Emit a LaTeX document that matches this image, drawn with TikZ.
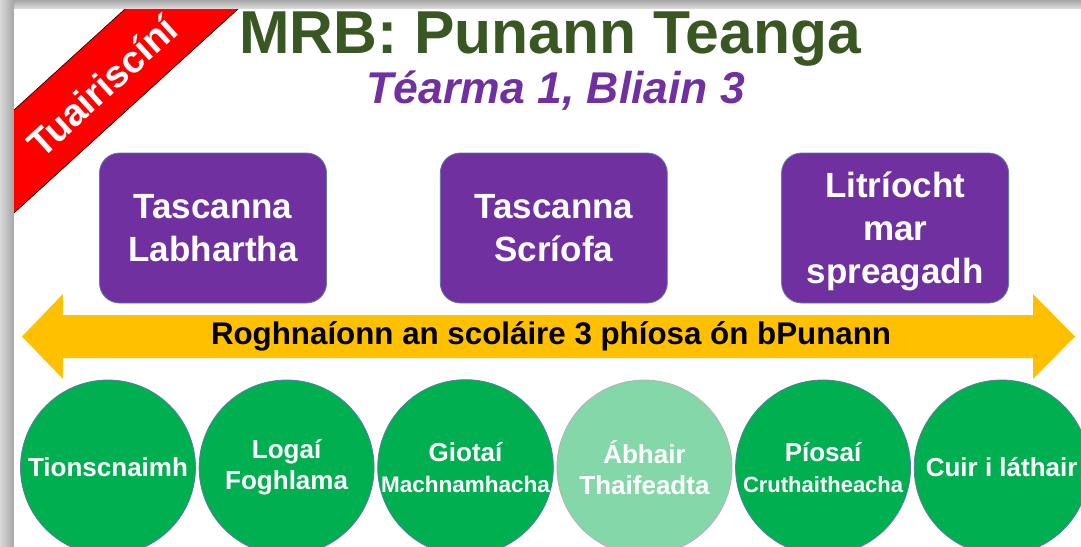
\documentclass[tikz,border=0pt]{standalone}
\usepackage{fontspec}
\setmainfont{Liberation Sans}
\usetikzlibrary{positioning}

\definecolor{glasdorcha}{HTML}{385723}
\definecolor{corcra}{HTML}{7030A0}
\definecolor{buí}{HTML}{FFC000}
\definecolor{glas}{HTML}{00B050}
\definecolor{glasbog}{HTML}{84D7A9}
\definecolor{imeall}{HTML}{5B7BA8}

\begin{document}
\begin{tikzpicture}[
        x=1pt, y=-1pt,
        tasc/.style={draw=imeall, line width=0.8pt, fill=corcra, rounded corners=20pt, align=center,
            minimum width=227pt, minimum height=150pt, text=white,
            font=\bfseries\fontsize{35}{43}\selectfont},
        ciorcal/.style={circle, draw=imeall, line width=0.8pt, fill=glas, align=center, inner sep=0pt,
            minimum size=175pt, text=white, font=\bfseries\fontsize{26}{31}\selectfont}
    ]
        \useasboundingbox (0,0) rectangle (1081,546);
        % cúlra agus scáth
        \fill[gray!55] (0,0) rectangle (1081,546);
        \shade[top color=gray!70, bottom color=gray!25] (0,0) rectangle (1081,9);
        \shade[left color=gray!30, right color=gray!70] (0,0) rectangle (14,546);
        \fill[white] (14,9) rectangle (1081,546);

        % ribín
        \fill[red] (14,110) -- (125,9) -- (238,9) -- (14,213) -- cycle;
        \draw[black, line width=0.6pt] (14,110) -- (125,9) (238,9) -- (14,213);
        \node[rotate=42.3, text=white, font=\bfseries\fontsize{38}{38}\selectfont] (ribin) at (102,86) {Tuairiscíní};

        % teideal
        \node[text=glasdorcha, font=\bfseries\fontsize{60.6}{61}\selectfont] (teideal) at (550,39) {MRB: Punann Teanga};
        \node[text=corcra, font=\bfseries\itshape\fontsize{44.5}{45}\selectfont] (fotheideal) at (556,91) {Téarma 1, Bliain 3};

        % tascanna
        \node[tasc] (t1) at (213,228) {Tascanna\\Labhartha};
        \node[tasc, right=113pt of t1] (t2) {Tascanna\\Scríofa};
        \node[tasc, right=113.5pt of t2, text depth=0pt] (t3) {Litríocht\\mar\\spreagadh};

        % saighead
        \fill[buí] (22,336.5) -- (63,294) -- (63,315) -- (1033,315) -- (1033,294) -- (1075,336.5)
            -- (1033,379) -- (1033,358) -- (63,358) -- (63,379) -- cycle;
        \node[font=\bfseries\fontsize{31.3}{32}\selectfont] (rogha) at (551,336.5) {Roghnaíonn an scoláire 3 phíosa ón bPunann};

        % píosaí
        \node[ciorcal] (c1) at (108,467.5) {Tionscnaimh};
        \node[ciorcal, right=2.8pt of c1] (c2) {Logaí\\Foghlama};
        \node[ciorcal, right=2.8pt of c2] (c3) {Giotaí\\{\fontsize{22.5}{27}\selectfont Machnamhacha}};
        \node[ciorcal, fill=glasbog, draw=gray!60, right=2.8pt of c3] (c4) {Ábhair\\Thaifeadta};
        \node[ciorcal, right=2.8pt of c4] (c5) {Píosaí\\{\fontsize{22}{27}\selectfont Cruthaitheacha}};
        \node[ciorcal, right=2.8pt of c5] (c6) {Cuir i láthair};
    \end{tikzpicture}
\end{document}
